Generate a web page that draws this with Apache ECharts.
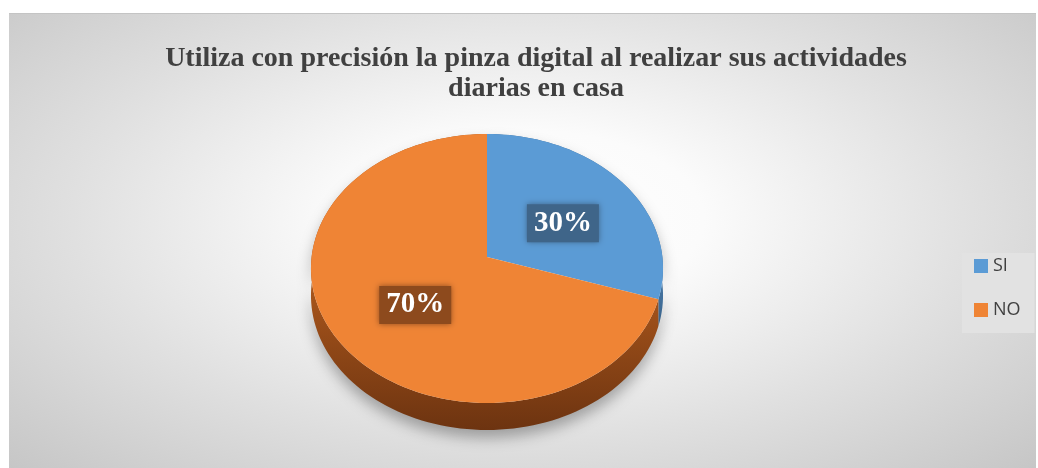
<!DOCTYPE html>
<html>
<head>
<meta charset="utf-8">
<script src="https://cdn.jsdelivr.net/npm/echarts@6/dist/echarts.min.js"></script>
<style>
  html, body { margin: 0; padding: 0; background: #fff; }
  #bg {
    position: absolute; left: 9px; top: 13px; width: 1027px; height: 455px;
    border-top: 1px solid #c4c4c4;
    background: radial-gradient(ellipse at 50% 45%, #ffffff 0%, #fbfbfb 25%, #e0e0e0 62%, #c6c6c6 100%);
  }
  #main { position: absolute; left: 0; top: 0; width: 1038px; height: 468px; }
</style>
</head>
<body>
<div id="bg"></div>
<div id="main"></div>
<script>
// datos
var categories = ['SI', 'NO'];
var values = [30, 70];
var titleText = 'Utiliza con precisión la pinza digital al realizar sus actividades\ndiarias en casa';

// estilos
var topColors = ['#5b9bd5', '#ef8435'];
var sideColors = [['#44739f', '#2b4e70'], ['#a9561c', '#6c3310']];
var labelBg = ['#3f6589', '#8d4a1d'];

// geometria del pastel 3D (perspectiva simple)
var cx = 487, cy = 257, rx = 175.4, ry = 133.5, persp = 0.0855, depth = 27;

function proj(theta, r) {
    var X = r * Math.sin(theta), Z = r * Math.cos(theta);
    var s = 1 + persp * Z;
    return [cx + rx * X / s, cy - ry * Z / s];
}

function sliceRange(i) {
    var total = 0, start = 0;
    for (var j = 0; j < values.length; j++) {
        total += values[j];
        if (j < i) start += values[j];
    }
    return [start / total * Math.PI * 2, (start + values[i]) / total * Math.PI * 2];
}

function makeRender(i) {
    return function (params, api) {
        var v = api.value(0);
        var rg = sliceRange(i);
        var a = rg[0], b = rg[1];
        var n = Math.max(8, Math.round((b - a) / Math.PI * 90));
        var rim = [], low = [];
        for (var k = 0; k <= n; k++) {
            var p = proj(a + (b - a) * k / n, 1);
            rim.push(p);
            low.push([p[0], p[1] + depth]);
        }
        var band = rim.concat(low.slice().reverse());
        var face = [proj(0, 0)].concat(rim);
        var mid = (a + b) / 2;
        var lp = proj(mid, 0.52);
        return {
            type: 'group',
            children: [{
                type: 'polygon',
                z2: 1,
                shape: { points: band },
                style: {
                    fill: new echarts.graphic.LinearGradient(0, 285, 0, 432, [
                        { offset: 0, color: sideColors[i][0] },
                        { offset: 1, color: sideColors[i][1] }
                    ], true),
                    shadowBlur: 14,
                    shadowColor: 'rgba(0,0,0,0.30)',
                    shadowOffsetY: 8
                }
            }, {
                type: 'polygon',
                z2: 10,
                shape: { points: face },
                style: { fill: topColors[i] }
            }, {
                type: 'text',
                z2: 20,
                x: lp[0] + 4,
                y: lp[1] + 6,
                style: {
                    text: v + '%',
                    fill: '#fff',
                    font: 'bold 29px "Liberation Serif"',
                    align: 'center',
                    verticalAlign: 'middle',
                    backgroundColor: labelBg[i],
                    padding: [6, 7, 3, 7],
                    shadowBlur: 6,
                    shadowColor: labelBg[i]
                }
            }]
        };
    };
}

var series = [];
for (var i = 0; i < categories.length; i++) {
    series.push({
        type: 'custom',
        name: categories[i],
        coordinateSystem: 'none',
        itemStyle: { color: topColors[i] },
        data: [[values[i]]],
        renderItem: makeRender(i)
    });
}

var myChart = echarts.init(document.getElementById('main'));
var option = {
    animation: false,
    title: {
        text: titleText,
        left: 531,
        top: 39,
        textAlign: 'center',
        textStyle: {
            fontFamily: 'Liberation Serif',
            fontWeight: 'bold',
            fontSize: 28,
            lineHeight: 30,
            color: '#404040'
        }
    },
    legend: {
        orient: 'vertical',
        left: 962,
        top: 253,
        data: categories,
        icon: 'rect',
        itemWidth: 14,
        itemHeight: 14,
        itemGap: 26,
        itemTextGap: 6,
        padding: [4, 14, 14, 12],
        backgroundColor: '#e2e2e2',
        selectedMode: false,
        textStyle: {
            fontFamily: 'Open Sans',
            fontSize: 18,
            lineHeight: 18,
            color: '#404040'
        }
    },
    series: series
};
myChart.setOption(option);
</script>
</body>
</html>
